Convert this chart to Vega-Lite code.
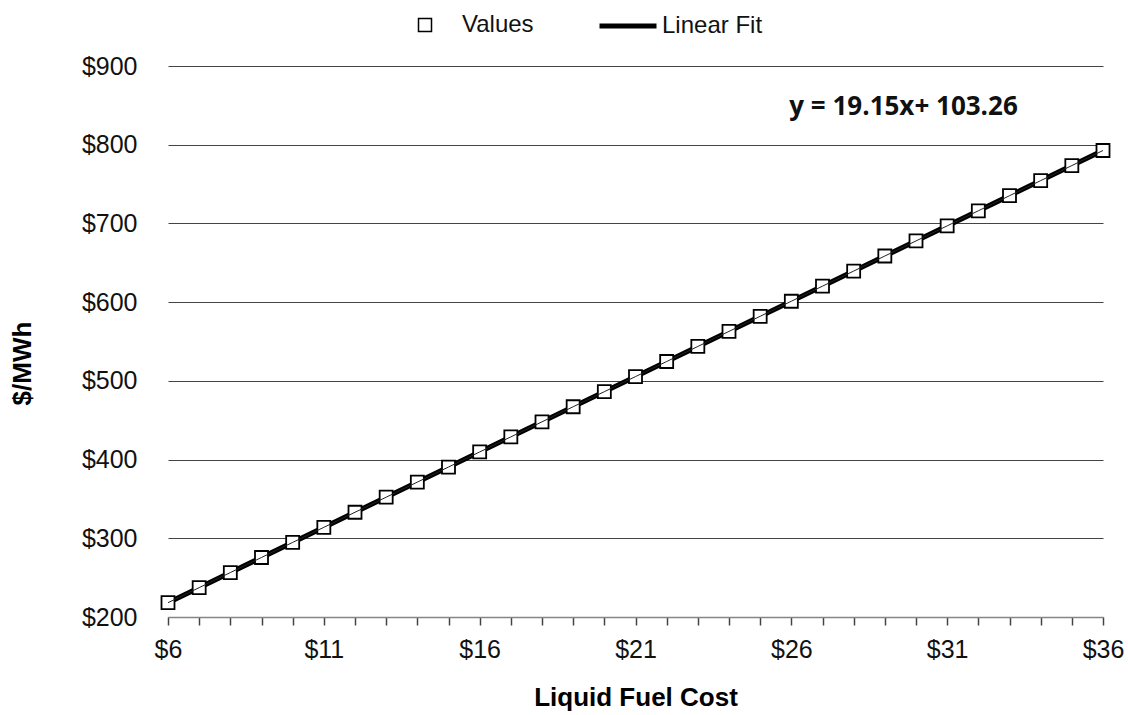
{
  "$schema": "https://vega.github.io/schema/vega-lite/v6.json",
  "width": 935,
  "height": 551,
  "autosize": {"type": "none"},
  "padding": {"left": 168, "top": 66, "right": 25, "bottom": 98},
  "background": "white",
  "config": {
    "view": {"stroke": null},
    "font": "Liberation Sans",
    "axis": {"labelFont": "Liberation Sans", "titleFont": "Liberation Sans", "labelColor": "#111", "titleColor": "#000"},
    "legend": {"padding": 0}
  },
  "resolve": {"scale": {"color": "independent"}, "legend": {"color": "independent"}},
  "datasets": {
    "vals": [
      {"x": 6, "y": 218.16, "series": "Values"},
      {"x": 7, "y": 237.31, "series": "Values"},
      {"x": 8, "y": 256.46, "series": "Values"},
      {"x": 9, "y": 275.61, "series": "Values"},
      {"x": 10, "y": 294.76, "series": "Values"},
      {"x": 11, "y": 313.91, "series": "Values"},
      {"x": 12, "y": 333.06, "series": "Values"},
      {"x": 13, "y": 352.21, "series": "Values"},
      {"x": 14, "y": 371.36, "series": "Values"},
      {"x": 15, "y": 390.51, "series": "Values"},
      {"x": 16, "y": 409.66, "series": "Values"},
      {"x": 17, "y": 428.81, "series": "Values"},
      {"x": 18, "y": 447.96, "series": "Values"},
      {"x": 19, "y": 467.11, "series": "Values"},
      {"x": 20, "y": 486.26, "series": "Values"},
      {"x": 21, "y": 505.41, "series": "Values"},
      {"x": 22, "y": 524.56, "series": "Values"},
      {"x": 23, "y": 543.71, "series": "Values"},
      {"x": 24, "y": 562.86, "series": "Values"},
      {"x": 25, "y": 582.01, "series": "Values"},
      {"x": 26, "y": 601.16, "series": "Values"},
      {"x": 27, "y": 620.31, "series": "Values"},
      {"x": 28, "y": 639.46, "series": "Values"},
      {"x": 29, "y": 658.61, "series": "Values"},
      {"x": 30, "y": 677.76, "series": "Values"},
      {"x": 31, "y": 696.91, "series": "Values"},
      {"x": 32, "y": 716.06, "series": "Values"},
      {"x": 33, "y": 735.21, "series": "Values"},
      {"x": 34, "y": 754.36, "series": "Values"},
      {"x": 35, "y": 773.51, "series": "Values"},
      {"x": 36, "y": 792.66, "series": "Values"}
    ],
    "fit": [
      {"x": 6, "y": 218.16, "series": "Linear Fit"},
      {"x": 36, "y": 792.66, "series": "Linear Fit"}
    ],
    "eq": [
      {"x": 29.6, "y": 848, "label": "y = 19.15x+ 103.26"}
    ]
  },
  "encoding": {
    "x": {
      "field": "x", "type": "quantitative",
      "scale": {"domain": [6, 36], "nice": false, "zero": false},
      "axis": {
        "values": [6,7,8,9,10,11,12,13,14,15,16,17,18,19,20,21,22,23,24,25,26,27,28,29,30,31,32,33,34,35,36],
        "labelExpr": "(datum.value - 6) % 5 == 0 ? '$' + datum.value : ''",
        "labelOverlap": false,
        "grid": false,
        "domainColor": "#868686",
        "domainWidth": 1.5,
        "tickColor": "#444",
        "tickSize": 8,
        "tickWidth": 1.5,
        "labelFontSize": 25,
        "labelPadding": 12,
        "labelFlush": false,
        "title": "Liquid Fuel Cost",
        "titleFontSize": 26,
        "titleFontWeight": "bold",
        "titlePadding": 22
      }
    },
    "y": {
      "field": "y", "type": "quantitative",
      "scale": {"domain": [200, 900], "nice": false, "zero": false},
      "axis": {
        "values": [200,300,400,500,600,700,800,900],
        "labelExpr": "'$' + datum.value",
        "grid": true,
        "gridColor": "#444",
        "gridWidth": 1.2,
        "domain": false,
        "ticks": false,
        "labelFontSize": 25,
        "labelPadding": 31,
        "title": "$/MWh",
        "titleFontSize": 26,
        "titleFontWeight": "bold",
        "titlePadding": 46,
        "titleY": 297
      }
    }
  },
  "layer": [
    {
      "data": {"name": "fit"},
      "mark": {"type": "line", "strokeWidth": 5},
      "encoding": {
        "color": {
          "field": "series", "type": "nominal",
          "scale": {"domain": ["Linear Fit"], "range": ["#000"]},
          "legend": {
            "orient": "none",
            "legendX": 429,
            "legendY": -71,
            "title": null,
            "labelFontSize": 24,
            "labelFont": "Liberation Sans",
            "labelColor": "#111",
            "labelOffset": 3,
            "symbolType": "stroke",
            "symbolSize": 3249,
            "symbolStrokeWidth": 5
          }
        }
      }
    },
    {
      "data": {"name": "vals"},
      "mark": {"type": "point", "shape": "square", "filled": false, "fill": "white", "fillOpacity": 1, "strokeWidth": 1.8, "size": 169, "opacity": 1},
      "encoding": {
        "color": {
          "field": "series", "type": "nominal",
          "scale": {"domain": ["Values"], "range": ["#000"]},
          "legend": {
            "orient": "none",
            "legendX": 245,
            "legendY": -53,
            "title": null,
            "labelFontSize": 24,
            "labelFont": "Liberation Sans",
            "labelColor": "#111",
            "labelOffset": 25,
            "symbolSize": 169,
            "symbolType": "square",
            "symbolFillColor": "white",
            "symbolStrokeWidth": 1.5
          }
        }
      }
    },
    {
      "data": {"name": "vals"},
      "mark": {"type": "line", "color": "#222", "strokeWidth": 1}
    },
    {
      "data": {"name": "eq"},
      "mark": {"type": "text", "font": "Open Sans", "fontWeight": "bold", "fontSize": 26, "color": "#111", "align": "center", "baseline": "middle"},
      "encoding": {
        "text": {"field": "label"}
      }
    }
  ]
}
